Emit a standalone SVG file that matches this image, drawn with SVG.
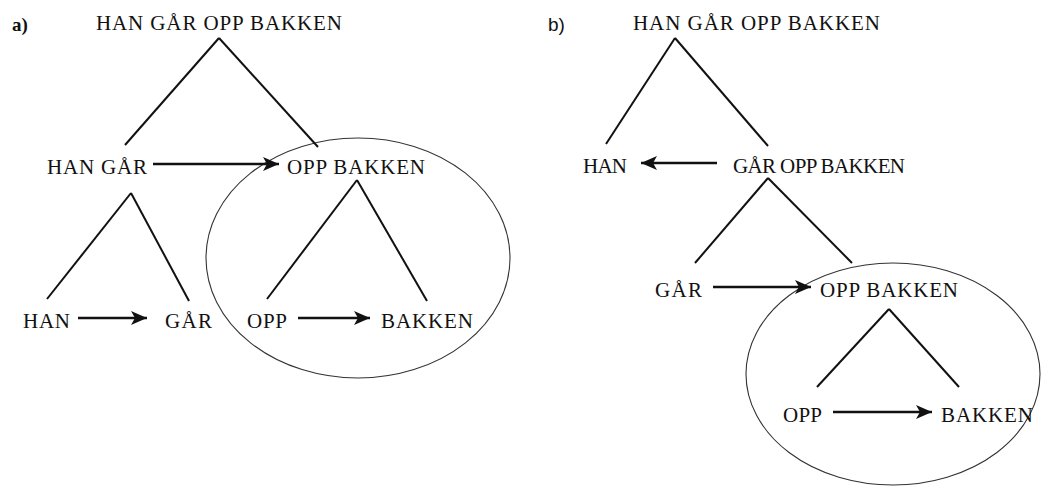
<svg xmlns="http://www.w3.org/2000/svg" width="1041" height="486" viewBox="0 0 1041 486">
  <defs>
    <style>
      .lbl { font-family: "Liberation Serif", "Times New Roman", serif; font-size: 21px; fill: #111; }
      .tag { font-size: 19px; fill: #111; }
      .branch { stroke: #111; stroke-width: 2; fill: none; stroke-linecap: butt; }
      .arrow { stroke: #111; stroke-width: 2.6; fill: none; marker-end: url(#head); }
      .scope { stroke: #333; stroke-width: 1.1; fill: none; }
    </style>
    <marker id="head" markerUnits="userSpaceOnUse" markerWidth="17" markerHeight="14" viewBox="0 0 17 14" refX="16" refY="7" orient="auto">
      <path d="M0,0 L16,7 L0,14 L4,7 Z" fill="#111"/>
    </marker>
  </defs>
  <rect width="1041" height="486" fill="#fff"/>

  <!-- panel labels -->
  <text class="tag" x="12" y="31" font-family="Liberation Serif, serif" font-weight="bold">a)</text>
  <text class="tag" x="548" y="31" font-family="Liberation Sans, sans-serif">b)</text>

  <!-- constituent scopes -->
  <ellipse class="scope" cx="358" cy="258" rx="152" ry="120"/>
  <ellipse class="scope" cx="893" cy="374" rx="147" ry="111"/>

  <g id="connectors">
    <!-- tree a -->
    <line class="branch" x1="219" y1="38" x2="125" y2="145"/>
    <line class="branch" x1="219" y1="38" x2="318" y2="147"/>
    <line class="branch" x1="131" y1="193" x2="47" y2="299"/>
    <line class="branch" x1="131" y1="193" x2="189" y2="301"/>
    <line class="branch" x1="357" y1="180" x2="267" y2="299"/>
    <line class="branch" x1="357" y1="180" x2="427" y2="301"/>
    <line class="arrow" x1="153" y1="164" x2="279" y2="164"/>
    <line class="arrow" x1="78" y1="318" x2="147" y2="318"/>
    <line class="arrow" x1="298" y1="318" x2="370" y2="318"/>
    <!-- tree b -->
    <line class="branch" x1="675" y1="38" x2="606" y2="144"/>
    <line class="branch" x1="675" y1="38" x2="768" y2="146"/>
    <line class="branch" x1="768" y1="178" x2="695" y2="263"/>
    <line class="branch" x1="768" y1="178" x2="852" y2="263"/>
    <line class="branch" x1="889" y1="309" x2="817" y2="387"/>
    <line class="branch" x1="889" y1="309" x2="959" y2="387"/>
    <line class="arrow" x1="717" y1="163" x2="641" y2="163"/>
    <line class="arrow" x1="713" y1="287" x2="811" y2="287"/>
    <line class="arrow" x1="833" y1="412" x2="932" y2="412"/>
  </g>

  <!-- tree a nodes -->
  <g id="a-root"><text class="lbl" x="96" y="30" textLength="246" lengthAdjust="spacing">HAN GÅR OPP BAKKEN</text></g>
  <g id="a-han-gar"><text class="lbl" x="47" y="174" textLength="100" lengthAdjust="spacing">HAN GÅR</text></g>
  <g id="a-opp-bakken"><text class="lbl" x="287" y="174" textLength="138" lengthAdjust="spacing">OPP BAKKEN</text></g>
  <g id="a-han"><text class="lbl" x="23" y="328" textLength="47" lengthAdjust="spacing">HAN</text></g>
  <g id="a-gar"><text class="lbl" x="165" y="328" textLength="47" lengthAdjust="spacing">GÅR</text></g>
  <g id="a-opp"><text class="lbl" x="247" y="328" textLength="40" lengthAdjust="spacing">OPP</text></g>
  <g id="a-bakken"><text class="lbl" x="381" y="328" textLength="92" lengthAdjust="spacing">BAKKEN</text></g>

  <!-- tree b nodes -->
  <g id="b-root"><text class="lbl" x="633" y="30" textLength="247" lengthAdjust="spacing">HAN GÅR OPP BAKKEN</text></g>
  <g id="b-han"><text class="lbl" x="583" y="173" textLength="44" lengthAdjust="spacing">HAN</text></g>
  <g id="b-gar-opp-bakken"><text class="lbl" x="733" y="173" textLength="172" lengthAdjust="spacing">GÅR OPP BAKKEN</text></g>
  <g id="b-gar"><text class="lbl" x="655" y="297" textLength="47" lengthAdjust="spacing">GÅR</text></g>
  <g id="b-opp-bakken"><text class="lbl" x="820" y="297" textLength="138" lengthAdjust="spacing">OPP BAKKEN</text></g>
  <g id="b-opp"><text class="lbl" x="783" y="422" textLength="39" lengthAdjust="spacing">OPP</text></g>
  <g id="b-bakken"><text class="lbl" x="941" y="422" textLength="92" lengthAdjust="spacing">BAKKEN</text></g>
</svg>
